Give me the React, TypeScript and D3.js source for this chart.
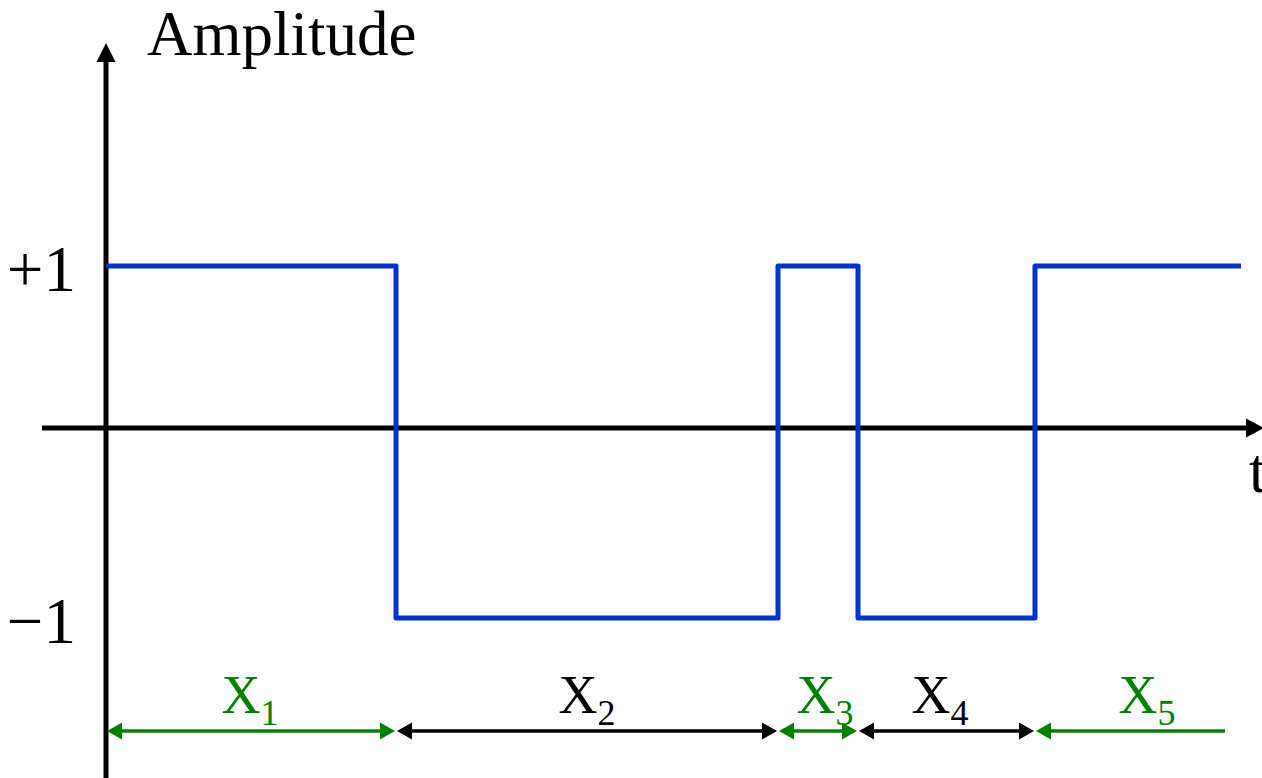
import React from "react";
import * as d3 from "d3";

// Signal: transition times and levels
const transitionTimes = [0, 2.9, 6.72, 7.52, 9.29, 11.35];
const levels = [1, -1, 1, -1, 1];
const levelTicks = [1, -1];
const levelTickLabels = ["+1", "\u22121"];

// Interval annotations
const intervalNames = ["1", "2", "3", "4", "5"];
const intervalStart = [0, 2.9, 6.72, 7.52, 9.29];
const intervalEnd = [2.9, 6.72, 7.52, 9.29, 11.19];
const intervalLabelAt = [1.44, 4.81, 7.19, 8.34, 10.41];
const intervalColors = ["#008000", "#000000", "#008000", "#000000", "#008000"];
const intervalRightHead = [true, true, true, true, false];

const W = 1262;
const H = 778;
const FONT = "'Liberation Serif', 'Times New Roman', serif";

export default function App() {
  const x = d3.scaleLinear().domain([0, 10]).range([106, 1106]);
  const y = d3.scaleLinear().domain([-1, 0, 1]).range([618, 428, 266]);

  const pts: [number, number][] = levels.map((v, i) => [transitionTimes[i], v]);
  pts.push([transitionTimes[transitionTimes.length - 1], levels[levels.length - 1]]);
  const line = d3
    .line<[number, number]>()
    .x((d) => x(d[0]))
    .y((d) => y(d[1]))
    .curve(d3.curveStepAfter);

  const x0 = x(0);
  const y0 = y(0);
  const axisLeft = x(-0.64);
  const axisRight = W;
  const yAxisTop = 43;
  const arrowY = 731;
  const headLen = 16;
  const headHalf = 8.5;

  return (
    <svg
      width={W}
      height={H}
      style={{ position: "absolute", left: 0, top: 0, background: "#fff" }}
      fontFamily={FONT}
    >
      {/* axes */}
      <line x1={x0} y1={yAxisTop + 15} x2={x0} y2={H} stroke="#000" strokeWidth={5} />
      <polygon
        points={`${x0},${yAxisTop} ${x0 - 9.5},${yAxisTop + 19} ${x0 + 9.5},${yAxisTop + 19}`}
        fill="#000"
      />
      <line x1={axisLeft} y1={y0} x2={axisRight - 12} y2={y0} stroke="#000" strokeWidth={5} />
      <polygon
        points={`${axisRight + 2},${y0} ${axisRight - 16},${y0 - 9.5} ${axisRight - 16},${y0 + 9.5}`}
        fill="#000"
      />

      {/* axis labels */}
      <text x={147} y={55} fontSize={63} fill="#000">Amplitude</text>
      <text x={1249} y={492} fontSize={63} fill="#000">t</text>
      {levelTicks.map((v, i) => (
        <text
          key={v}
          x={76}
          y={y(v) + 25}
          fontSize={65}
          textAnchor="end"
          fill="#000"
        >
          {levelTickLabels[i]}
        </text>
      ))}

      {/* signal */}
      <path
        d={line(pts) || ""}
        fill="none"
        stroke="#0033cc"
        strokeWidth={5}
        strokeLinejoin="round"
      />

      {/* interval arrows */}
      {intervalNames.map((n, i) => {
        const xa = x(intervalStart[i]);
        const xb = x(intervalEnd[i]);
        const c = intervalColors[i];
        return (
          <g key={n}>
            <line
              x1={xa + headLen - 2}
              y1={arrowY}
              x2={intervalRightHead[i] ? xb - headLen + 2 : xb}
              y2={arrowY}
              stroke={c}
              strokeWidth={3.5}
            />
            <polygon
              points={`${xa + 1},${arrowY} ${xa + headLen},${arrowY - headHalf} ${xa + headLen},${arrowY + headHalf}`}
              fill={c}
            />
            {intervalRightHead[i] && (
              <polygon
                points={`${xb - 1},${arrowY} ${xb - headLen},${arrowY - headHalf} ${xb - headLen},${arrowY + headHalf}`}
                fill={c}
              />
            )}
            <text
              x={x(intervalLabelAt[i])}
              y={713}
              fontSize={54}
              fill={c}
              textAnchor="middle"
            >
              X
              <tspan fontSize={36} dy={12}>{n}</tspan>
            </text>
          </g>
        );
      })}
    </svg>
  );
}
